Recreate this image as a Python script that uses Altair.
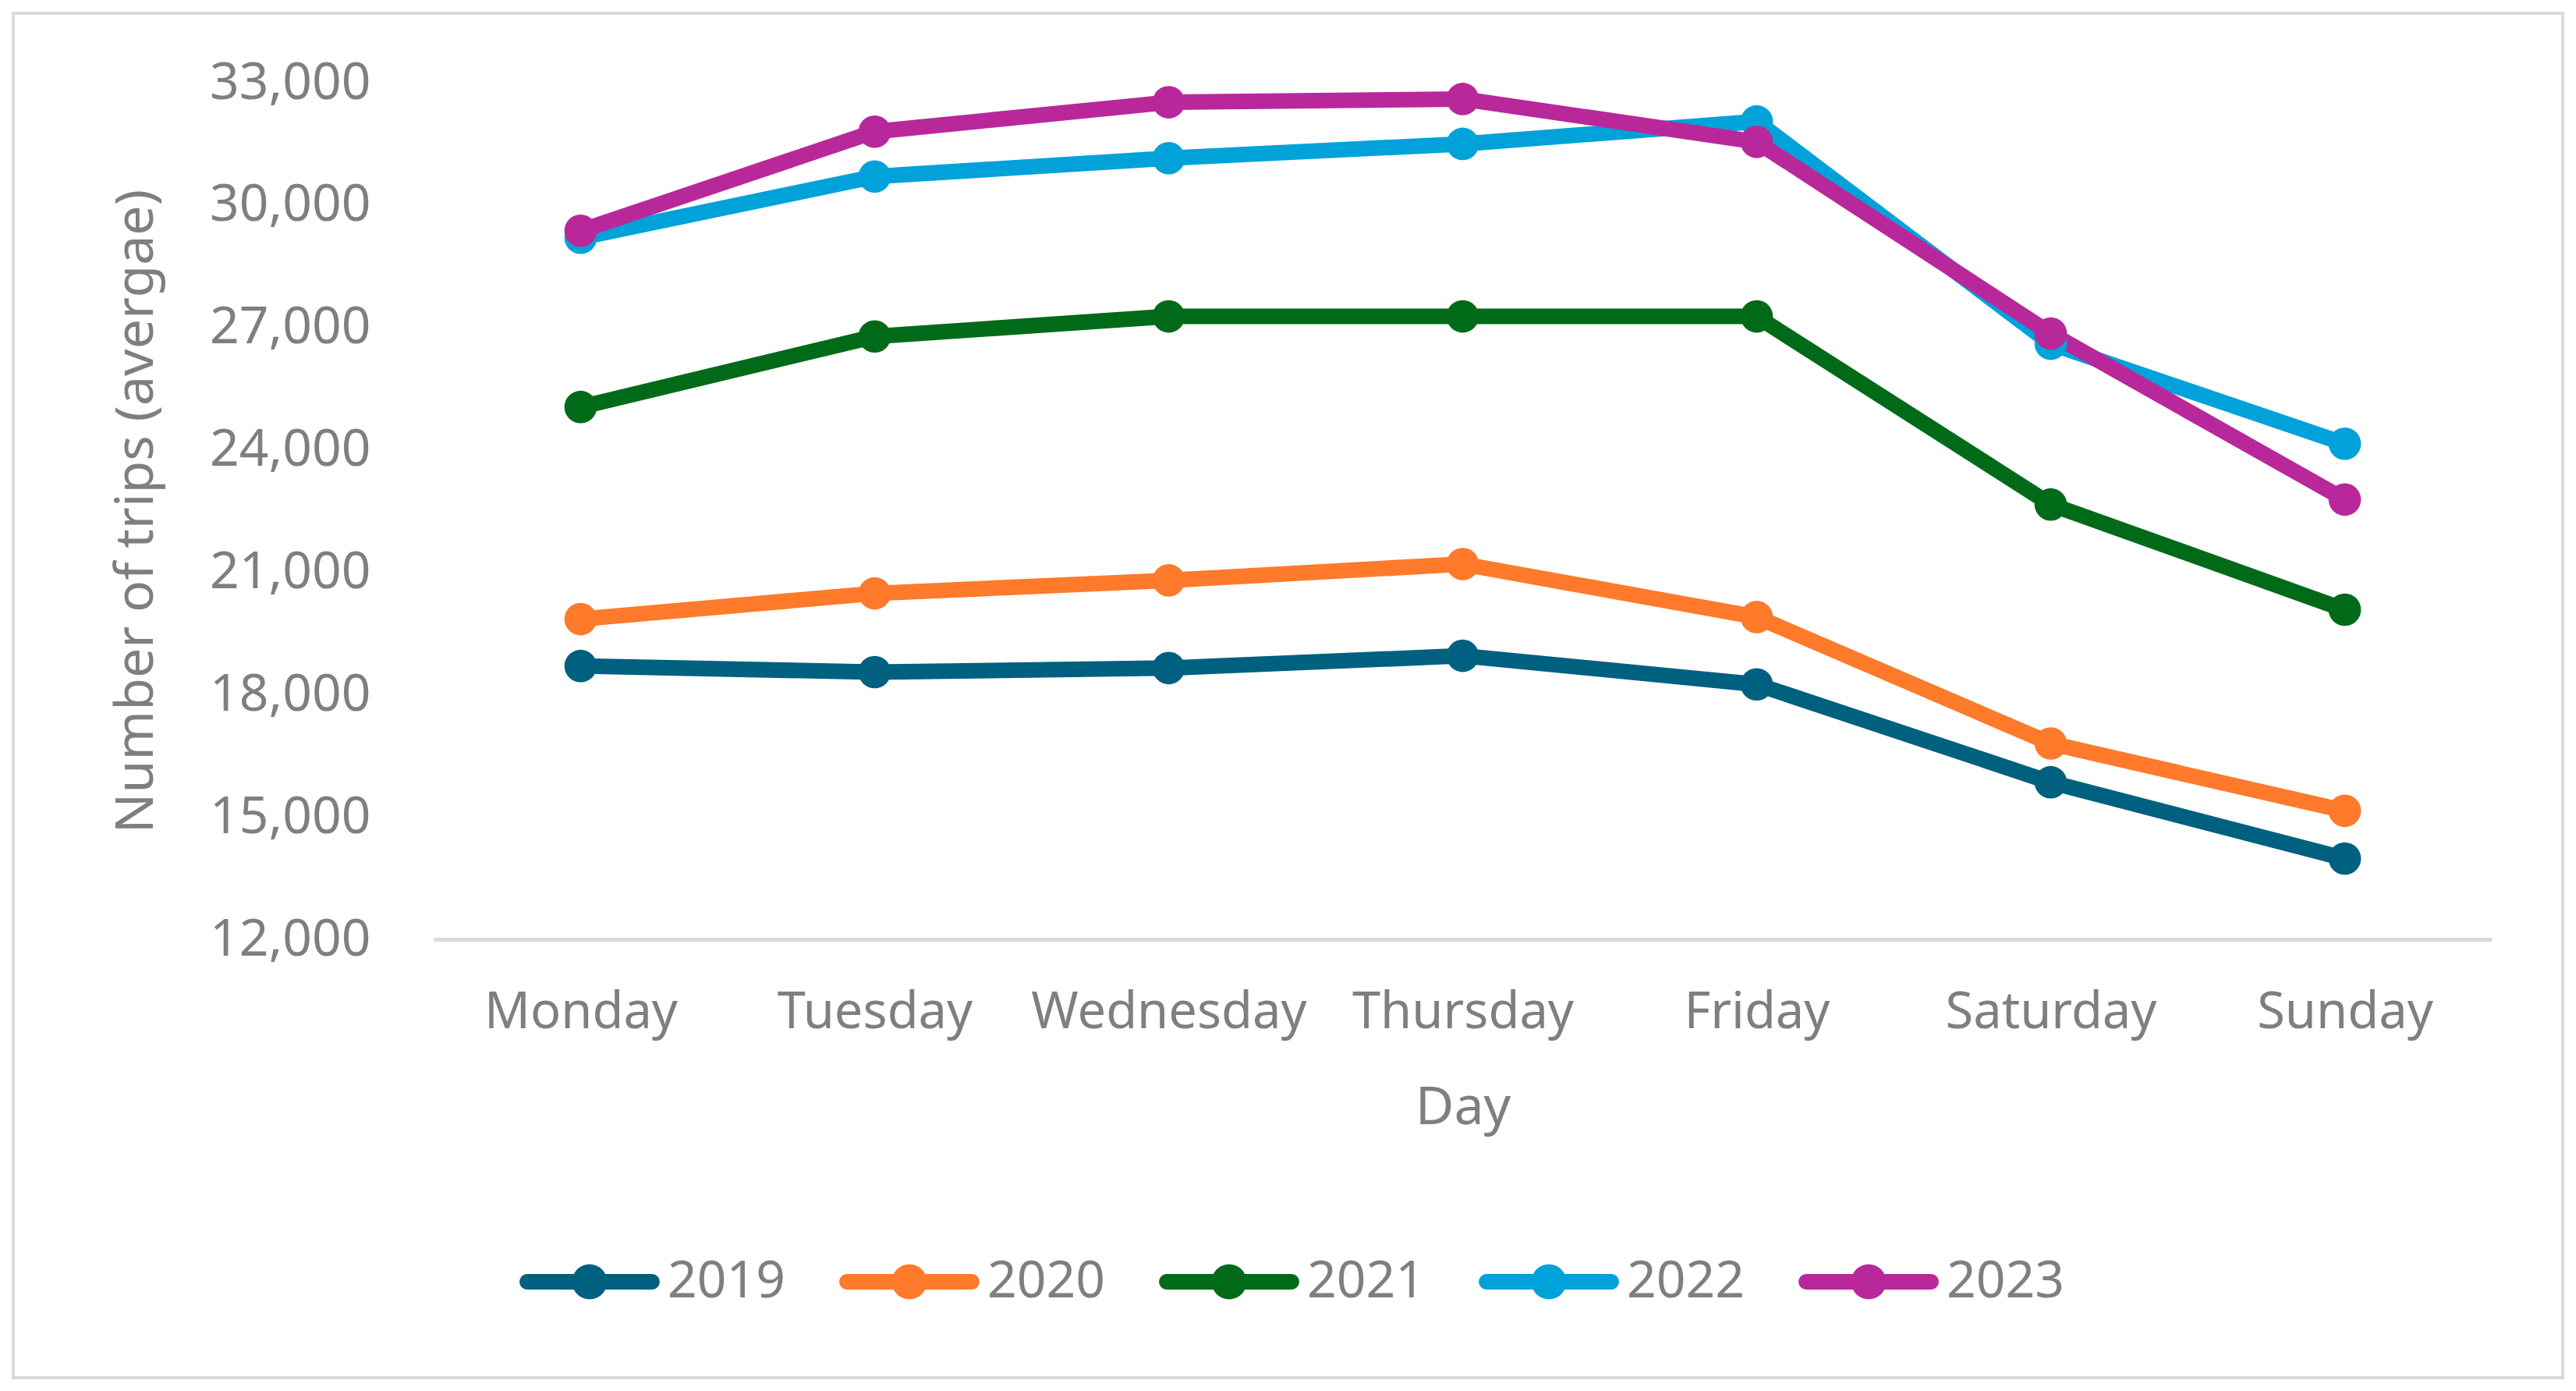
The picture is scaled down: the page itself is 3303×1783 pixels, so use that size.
import math
import altair as alt
import pandas as pd

days = ["Monday", "Tuesday", "Wednesday", "Thursday", "Friday", "Saturday", "Sunday"]
years = ["2019", "2020", "2021", "2022", "2023"]
trips_2019 = [18700, 18550, 18650, 18950, 18250, 15850, 13980]
trips_2020 = [19850, 20480, 20800, 21200, 19900, 16800, 15150]
trips_2021 = [25050, 26780, 27270, 27270, 27270, 22660, 20080]
trips_2022 = [29200, 30700, 31150, 31500, 32050, 26600, 24150]
trips_2023 = [29370, 31800, 32520, 32600, 31550, 26850, 22780]
colors = ["#00607F", "#FF7A2A", "#006A18", "#00A2D9", "#B8289B"]
y_ticks = [12000, 15000, 18000, 21000, 24000, 27000, 30000, 33000]

series = [trips_2019, trips_2020, trips_2021, trips_2022, trips_2023]
rows = []
for yr, vals in zip(years, series):
    for i, (d, v) in enumerate(zip(days, vals)):
        rows.append({"Year": yr, "Series": yr, "Day": d, "idx": i, "Trips": v})
df = pd.DataFrame(rows)

FONT = "Noto Sans"
GRAY = "#7f7f7f"

W, H = 2639, 1098

x_enc = alt.X(
    "Day:N",
    sort=days,
    scale=alt.Scale(type="point", padding=0.5),
    axis=alt.Axis(
        title="Day", labelAngle=0, domain=True, domainColor="#d9d9d9", domainWidth=5,
        ticks=False, grid=False, labelFontSize=65, labelColor=GRAY, labelFont=FONT,
        labelPadding=113, labelBaseline="alphabetic", labelLimit=0,
        titleFontSize=68, titleColor=GRAY, titleFont=FONT, titleFontWeight="normal",
        titleX=W / 2, titleY=236, titleBaseline="alphabetic", titleAlign="center",
    ),
)
y_enc = alt.Y(
    "Trips:Q",
    scale=alt.Scale(domain=[12000, 33000], nice=False, zero=False),
    axis=alt.Axis(
        values=y_ticks, format=",d", domain=False, ticks=False, grid=False,
        labelPadding=81, labelFontSize=66, labelColor=GRAY, labelFont=FONT, labelLimit=0,
        title="Number of trips (avergae)", titleX=-381, titleY=H / 2, titleAngle=270,
        titleAlign="center", titleBaseline="middle", titleFontSize=68,
        titleColor=GRAY, titleFont=FONT, titleFontWeight="normal",
    ),
)

base = alt.Chart(df).encode(x=x_enc, y=y_enc)

# stroke scale keeps a data-driven domain so its (disabled) legend is not merged with the fill legend
line = base.mark_line(strokeWidth=20, strokeJoin="round", strokeCap="round").encode(
    stroke=alt.Stroke("Series:N", scale=alt.Scale(range=colors), legend=None),
    order=alt.Order("idx:Q"),
)


def arc_pts(cx, cy, r, a0, a1, n):
    return [(cx + r * math.cos(a0 + (a1 - a0) * k / n), cy + r * math.sin(a0 + (a1 - a0) * k / n))
            for k in range(n + 1)]


def poly(pts):
    return "M" + " L".join(f"{x:.3f},{y:.3f}" for x, y in pts) + " Z"


hw = 0.222
bar_pts = (arc_pts(0.778, 0, hw, -math.pi / 2, math.pi / 2, 8)
           + arc_pts(-2.778, 0, hw, math.pi / 2, 3 * math.pi / 2, 8))
circle_pts = arc_pts(-1, 0, 0.5, 0, 2 * math.pi, 32)[:-1]
legend_path = poly(bar_pts) + " " + poly(circle_pts)

points = base.mark_circle(size=1735, opacity=1).encode(
    fill=alt.Fill(
        "Year:N",
        scale=alt.Scale(domain=years, range=colors),
        legend=alt.Legend(
            orient="none", legendX=200, legendY=1492, direction="horizontal",
            columns=5, title=None, symbolType=legend_path, symbolSize=8100,
            symbolStrokeWidth=0, symbolOpacity=1, labelFontSize=66, labelColor=GRAY,
            labelFont=FONT, labelOffset=10, columnPadding=68,
        ),
    ),
)

border = alt.Chart(pd.DataFrame({"a": [0]})).mark_rect(
    fillOpacity=0, stroke="#d9d9d9", strokeWidth=4
).encode(
    x=alt.value(-539), x2=alt.value(2730), y=alt.value(-89), y2=alt.value(1660)
)

chart = alt.layer(border, line, points).properties(
    width=W, height=H,
    autosize=alt.AutoSizeParams(type="none"),
    padding={"left": 548, "top": 98, "right": 100, "bottom": 571},
    background="white",
).configure_view(strokeWidth=0)

chart.save("out.html", embed_options={"renderer": "svg", "actions": False})
